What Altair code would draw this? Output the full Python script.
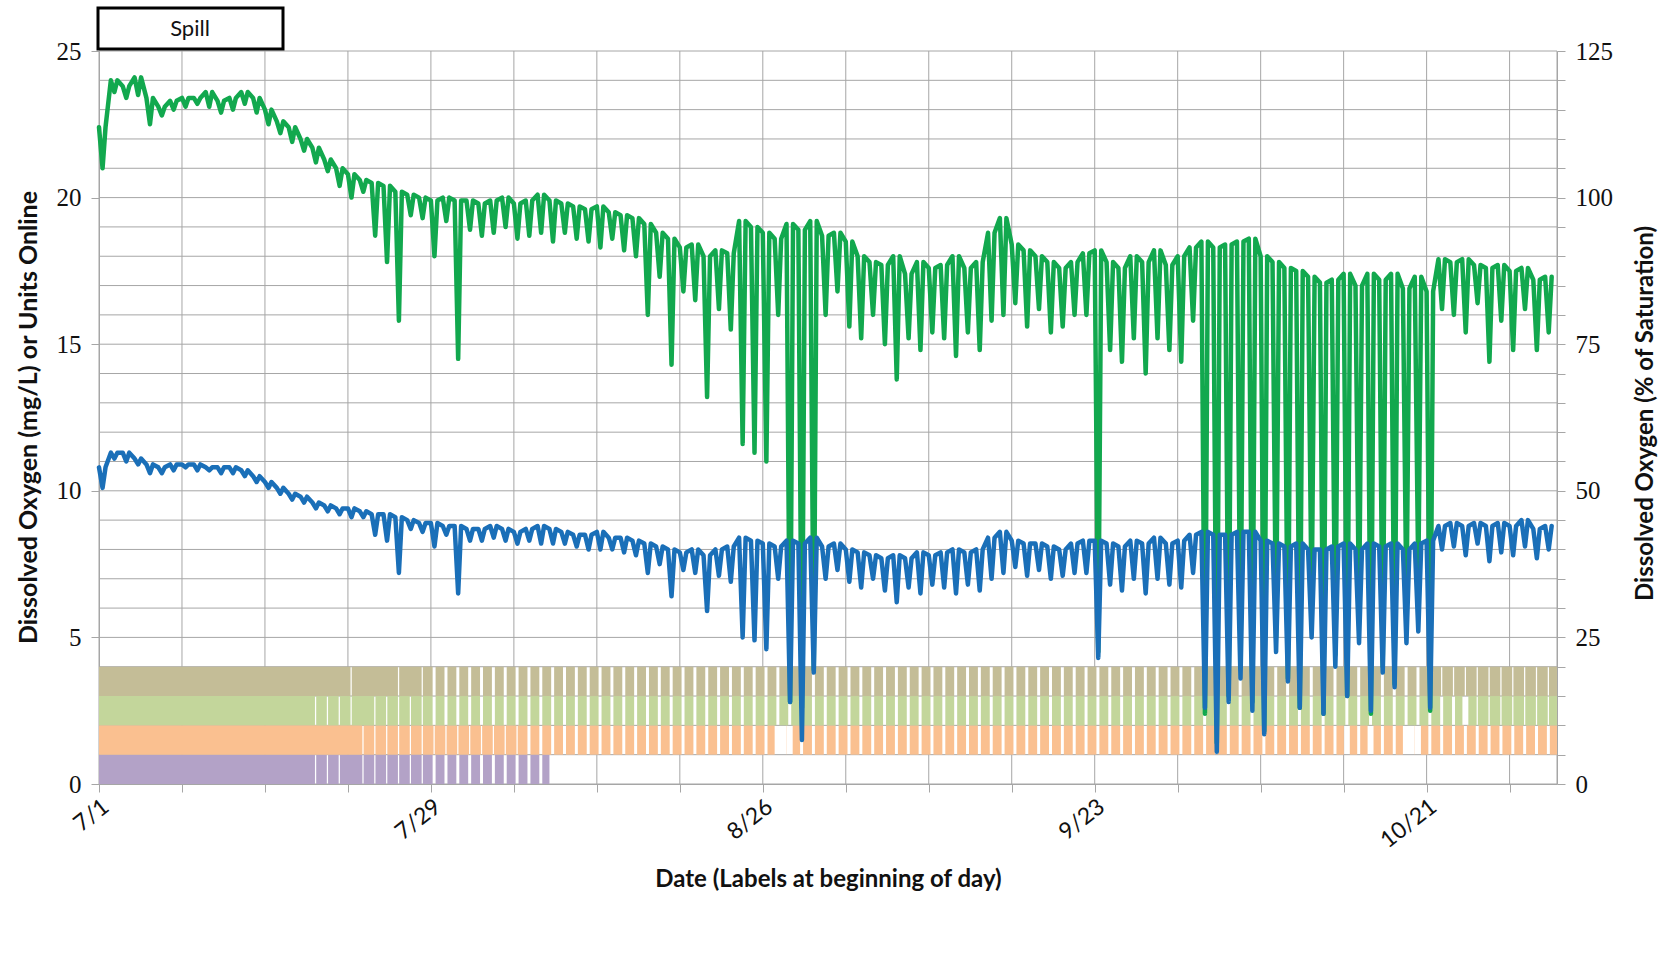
import altair as alt
import pandas as pd

# ---------------- data ----------------
N_DAYS = 123  # 7/1 .. 11/1
label_days = [0, 28, 56, 84, 112]
label_text = ["7/1", "7/29", "8/26", "9/23", "10/21"]

# Dissolved oxygen, % of saturation (right axis): daily high / daily low
green_top = [112, 120, 119, 120.5, 117, 115.5, 116.5, 117, 117, 118,
             116.5, 117, 118, 117, 115, 113, 112, 110, 108.5, 106.5,
             105, 104, 103, 102.5, 102, 101, 100.5, 100, 99.5, 100,
             99.5, 99.5, 99, 99.5, 100, 99, 99.5, 100.5, 99.5, 99,
             98.5, 98, 98.5, 97.5, 97, 96.5, 95.5, 94, 93, 91.5,
             92, 90, 91, 90.5, 96, 95, 94, 93, 95.5, 94.5,
             96, 93.5, 94, 92.5, 90, 89, 88.5, 90, 87, 89,
             88, 88.5, 90, 88, 89, 94, 96.5, 92, 91, 90,
             89, 88, 89, 90.5, 91, 89, 88, 90, 89, 91,
             88.5, 90, 91.5, 92.5, 91.5, 92, 92.5, 93, 90, 89,
             88, 87.5, 86.5, 85.5, 86, 87, 85, 87, 86, 87,
             84.5, 86.5, 84, 89.5, 89, 89.5, 88.5, 88, 88.5, 87.5,
             88, 86, 86.5]
green_low = [105, 118, 117, 117.5, 112.5, 114, 115, 115.5, 116, 115.5,
             114.5, 115, 116, 114.5, 112.5, 111, 109.5, 108, 106, 104.5,
             102, 100, 101, 93.5, 89, 79, 97, 96.5, 90, 96,
             72.5, 94.5, 93.5, 94, 95, 93, 93.5, 94, 92.5, 94,
             93, 92.5, 91.5, 93, 91, 90, 80, 86.5, 71.5, 84,
             82.5, 66, 81, 77.5, 58, 56.5, 55, 80, 14, 13,
             19.5, 80, 84, 78, 76, 80, 75, 69, 76, 74,
             77, 76, 73, 77, 74, 79, 80, 82, 78, 81,
             77, 78, 80, 80, 22.5, 74, 72, 76, 70, 76,
             74, 72, 79, 12, 7, 15, 20, 14, 9, 25,
             18, 13, 30, 12, 22, 15, 28, 12, 20, 17,
             30, 35, 12.5, 81, 80, 77, 82, 72, 79, 74,
             81, 74, 77]

# Dissolved oxygen, mg/L (left axis): daily high / daily low
blue_top = [10.8, 11.3, 11.3, 11.1, 10.9, 10.8, 10.9, 10.9, 10.9, 10.8,
            10.8, 10.8, 10.7, 10.5, 10.3, 10.1, 9.9, 9.8, 9.6, 9.5,
            9.4, 9.4, 9.3, 9.2, 9.2, 9.1, 9.0, 8.9, 8.9, 8.8,
            8.8, 8.7, 8.7, 8.8, 8.7, 8.6, 8.7, 8.8, 8.7, 8.6,
            8.5, 8.5, 8.6, 8.4, 8.4, 8.3, 8.2, 8.1, 8.0, 7.9,
            8.0, 7.8, 8.0, 8.1, 8.4, 8.3, 8.2, 8.1, 8.3, 8.2,
            8.4, 8.1, 8.2, 8.0, 7.9, 7.8, 7.7, 7.8, 7.7, 7.9,
            7.8, 7.9, 8.0, 7.9, 8.0, 8.4, 8.6, 8.3, 8.2, 8.2,
            8.1, 8.0, 8.2, 8.3, 8.3, 8.2, 8.1, 8.3, 8.2, 8.4,
            8.2, 8.3, 8.5, 8.6, 8.5, 8.5, 8.6, 8.6, 8.3, 8.2,
            8.1, 8.2, 8.0, 8.0, 8.1, 8.2, 8.0, 8.2, 8.1, 8.2,
            8.0, 8.2, 8.3, 8.8, 8.9, 8.8, 8.9, 8.8, 8.9, 8.8,
            9.0, 8.7, 8.8]
blue_low = [10.1, 11.1, 11.0, 10.9, 10.6, 10.6, 10.7, 10.8, 10.7, 10.7,
            10.6, 10.6, 10.5, 10.3, 10.1, 9.9, 9.7, 9.6, 9.4, 9.3,
            9.2, 9.1, 9.1, 8.5, 8.3, 7.2, 8.7, 8.6, 8.1, 8.5,
            6.5, 8.3, 8.3, 8.4, 8.3, 8.2, 8.3, 8.2, 8.2, 8.2,
            8.1, 8.0, 8.0, 8.0, 7.9, 7.8, 7.2, 7.5, 6.4, 7.3,
            7.2, 5.9, 7.1, 6.9, 5.0, 4.9, 4.6, 7.0, 2.8, 1.5,
            3.8, 7.0, 7.3, 6.9, 6.7, 7.0, 6.6, 6.2, 6.7, 6.5,
            6.8, 6.7, 6.5, 6.8, 6.6, 7.0, 7.2, 7.4, 7.1, 7.3,
            7.0, 7.1, 7.2, 7.2, 4.3, 6.8, 6.6, 7.0, 6.5, 7.0,
            6.8, 6.7, 7.2, 2.6, 1.1, 2.8, 3.6, 2.5, 1.7, 4.5,
            3.5, 2.6, 5.0, 2.4, 4.0, 3.0, 4.8, 2.5, 3.8, 3.3,
            4.8, 5.2, 2.6, 8.0, 8.1, 7.8, 8.2, 7.6, 7.9, 7.8,
            8.1, 7.7, 8.0]

# Units online, one code per day: '#' on all day, 'n' short outage,
# 'w' longer outage, 'W' half-day outage, '.' off all day
unit_names = ["Unit 1", "Unit 2", "Unit 3", "Unit 4"]
unit1 = "#" * 18 + "n" * 3 + "#" + "n" * 6 + "w" * 10 + "." * 85
unit2 = ("#" * 22 + "n" * 14 + "w" * 21 + "." + "W" + "w" * 46
         + "W" + "w" + "W" + "w" + "w" + "." + "W" + "w" * 11)
unit3 = "#" * 18 + "n" * 4 + "#" + "n" * 5 + "w" * 87 + "W" + "n" * 7
unit4 = "#" * 21 + "n" + "#" * 3 + "n" + "#" + "n" + "w" * 84 + "n" * 11
unit_codes = [unit1, unit2, unit3, unit4]
outage_hours = {"#": 0, "n": 2.5, "w": 6, "W": 12, ".": 24}
outage_hour_of_day = 6.5

unit_colors = ["#b3a2c7", "#fac090", "#c3d69b", "#c4bd97"]
green = "#12a84e"
blue = "#1a6fb8"
grid_color = "#a6a6a6"

# ---------------- build tables ----------------
def daily_line(top, low):
    rows = []
    for d in range(N_DAYS):
        rows.append({"day": d, "v": top[d]})
        rows.append({"day": d + 0.3, "v": low[d]})
        rows.append({"day": d + 0.55, "v": top[d]})
    return pd.DataFrame(rows)

green_df = daily_line(green_top, green_low)
blue_df = daily_line(blue_top, blue_low)

band_rows = []
for ui, (name, codes) in enumerate(zip(unit_names, unit_codes)):
    offs = []
    for d, c in enumerate(codes):
        h = outage_hours[c]
        if h >= 24:
            offs.append((d, d + 1))
        elif h > 0:
            c0 = d + outage_hour_of_day / 24
            offs.append((c0 - h / 48, c0 + h / 48))
    merged = []
    for a, b in sorted(offs):
        if merged and a <= merged[-1][1] + 1e-9:
            merged[-1] = (merged[-1][0], max(merged[-1][1], b))
        else:
            merged.append((a, b))
    cur = 0.0
    for a, b in merged:
        if a > cur:
            band_rows.append({"unit": name, "x0": cur, "x1": a, "y0": ui, "y1": ui + 1})
        cur = max(cur, b)
    if cur < N_DAYS:
        band_rows.append({"unit": name, "x0": cur, "x1": N_DAYS, "y0": ui, "y1": ui + 1})
bands_df = pd.DataFrame(band_rows)

# ---------------- chart ----------------
W, H = 1458, 733
xs = alt.Scale(domain=[0, N_DAYS], nice=False, zero=False)
yl = alt.Scale(domain=[0, 25], nice=False)
yr = alt.Scale(domain=[0, 125], nice=False)

label_expr = "".join(
    f"datum.value == {d} ? '{t}' : " for d, t in zip(label_days, label_text)
) + "''"

x_axis = alt.Axis(
    values=list(range(0, N_DAYS + 1, 7)), labelExpr=label_expr, labelAngle=322,
    labelAlign="right", labelBaseline="top", labelPadding=3, tickSize=8,
    labelFont="Lato", labelFontSize=23, labelColor="#111", labelOverlap=False,
    grid=False, domainColor=grid_color, tickColor=grid_color,
    title="Date (Labels at beginning of day)", titleFont="Lato", titleFontSize=24,
    titleFontWeight="bold", titleColor="#111", titleX=729, titleY=95,
    titleBaseline="middle", titleAlign="center",
)

def X(field):
    return alt.X(field, scale=xs, axis=x_axis)

hgrid = alt.Chart(pd.DataFrame({"v": list(range(26))})).mark_rule(
    color=grid_color, strokeWidth=1
).encode(y=alt.Y("v:Q", scale=yl, axis=None))

vgrid = alt.Chart(pd.DataFrame({"d": list(range(0, N_DAYS + 1, 7)) + [N_DAYS]})).mark_rule(
    color=grid_color, strokeWidth=1
).encode(x=X("d:Q"))

bands = alt.Chart(bands_df).mark_rect(strokeWidth=0).encode(
    x=X("x0:Q"),
    x2="x1:Q",
    y=alt.Y("y0:Q", scale=yl, axis=None),
    y2="y1:Q",
    color=alt.Color("unit:N", scale=alt.Scale(domain=unit_names, range=unit_colors), legend=None),
)

green_line = alt.Chart(green_df).mark_line(
    color=green, strokeWidth=4.5, strokeJoin="round", strokeCap="round"
).encode(
    x=X("day:Q"),
    y=alt.Y("v:Q", scale=yr, axis=alt.Axis(
        orient="right", values=list(range(0, 126, 5)),
        labelExpr="datum.value % 25 == 0 ? format(datum.value, 'd') : ''",
        tickSize=8, labelPadding=10, labelFont="Liberation Serif", labelFontSize=25,
        labelColor="#111", labelOverlap=False, grid=False,
        domainColor=grid_color, tickColor=grid_color,
        title="Dissolved Oxygen  (% of Saturation)", titleFont="Lato", titleFontSize=24,
        titleFontWeight="bold", titleColor="#111", titleAngle=270,
        titleX=88, titleY=362, titleAlign="center", titleBaseline="middle",
    )),
)

blue_line = alt.Chart(blue_df).mark_line(
    color=blue, strokeWidth=4.5, strokeJoin="round", strokeCap="round"
).encode(
    x=X("day:Q"),
    y=alt.Y("v:Q", scale=yl, axis=alt.Axis(
        orient="left", values=list(range(0, 26, 5)), tickSize=8, labelPadding=10,
        labelFont="Liberation Serif", labelFontSize=25, labelColor="#111",
        grid=False, domainColor=grid_color, tickColor=grid_color,
        title="Dissolved Oxygen (mg/L) or Units Online", titleFont="Lato",
        titleFontSize=25, titleFontWeight="bold", titleColor="#111",
        titleAngle=270, titleX=-71, titleY=366, titleAlign="center",
        titleBaseline="middle",
    )),
)

legend_df = pd.DataFrame({"name": ["Spill"]})
spill_box = alt.Chart(legend_df).mark_rect(
    fill="white", stroke="black", strokeWidth=3
).encode(x=alt.value(-1), x2=alt.value(184), y=alt.value(-43), y2=alt.value(-2))
spill_text = alt.Chart(legend_df).mark_text(
    font="Lato", fontSize=22, color="#111", baseline="middle", align="center"
).encode(x=alt.value(91), y=alt.value(-22), text="name:N")

chart = alt.layer(
    hgrid, vgrid, bands, green_line, blue_line, spill_box, spill_text
).resolve_scale(y="independent").properties(
    width=W, height=H,
    autosize=alt.AutoSizeParams(type="none"),
    padding={"left": 99, "top": 51, "right": 113, "bottom": 172},
    background="white",
).configure_view(stroke=None)

chart.save("out.html", embed_options={"renderer": "svg", "actions": False})
